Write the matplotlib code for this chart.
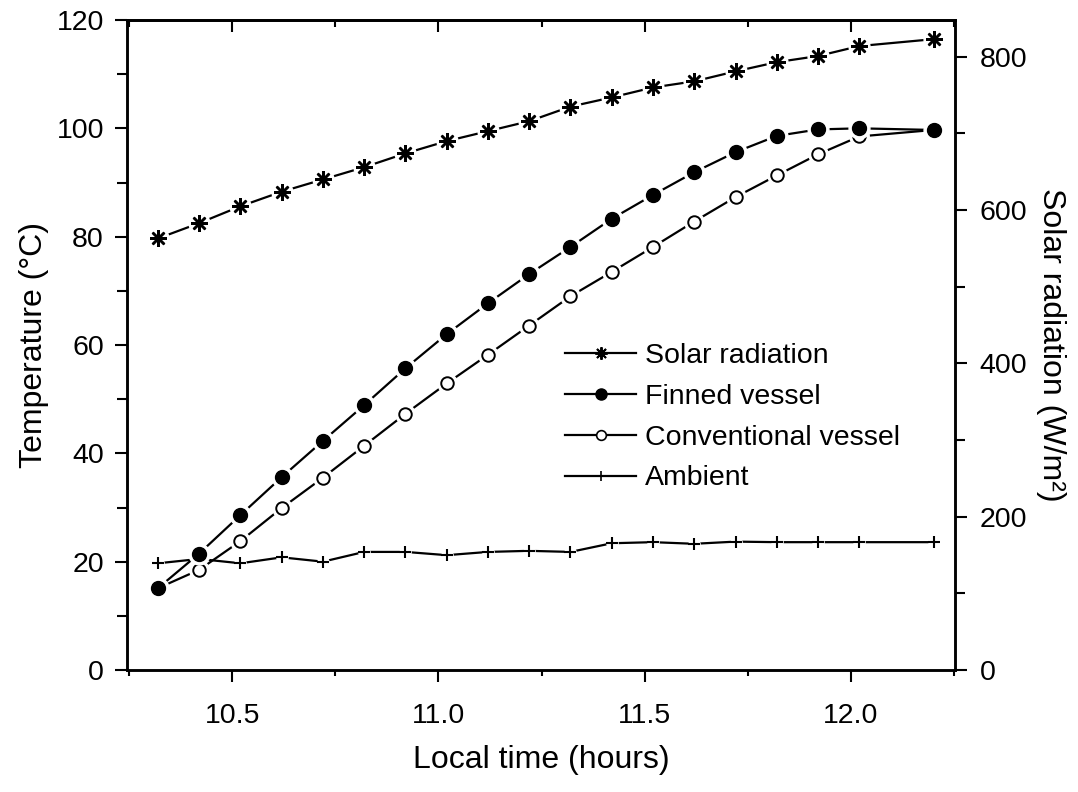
import matplotlib
matplotlib.use('Agg')
import matplotlib.pyplot as plt
from matplotlib.ticker import MultipleLocator, FormatStrFormatter
from matplotlib.lines import Line2D

# ---- data ----
times = [10.32, 10.42, 10.52, 10.62, 10.72, 10.82, 10.92, 11.02, 11.12, 11.22,
         11.32, 11.42, 11.52, 11.62, 11.72, 11.82, 11.92, 12.02, 12.20]
solar = [563, 583, 605, 624, 640, 656, 674, 690, 703, 716,
         735, 747, 760, 768, 781, 793, 801, 814, 823]
finned = [15.1, 21.5, 28.6, 35.6, 42.3, 48.9, 55.7, 62.0, 67.7, 73.1,
          78.1, 83.3, 87.7, 91.9, 95.6, 98.6, 99.8, 100.0, 99.7]
conventional = [15.1, 18.5, 23.8, 29.9, 35.5, 41.4, 47.3, 52.9, 58.2, 63.6,
                69.0, 73.5, 78.1, 82.8, 87.3, 91.3, 95.2, 98.5, 99.7]
ambient = [19.7, 20.5, 19.7, 20.8, 20.0, 21.8, 21.8, 21.2, 21.8, 22.0,
           21.8, 23.4, 23.6, 23.3, 23.7, 23.6, 23.6, 23.6, 23.6]

labels = ['Solar radiation', 'Finned vessel', 'Conventional vessel', 'Ambient']
x_major = [10.5, 11.0, 11.5, 12.0]

plt.rcParams['font.family'] = ['Liberation Sans', 'DejaVu Sans']
plt.rcParams['axes.linewidth'] = 1.8

fig = plt.figure(figsize=(10.78, 7.92), dpi=100)
ax = fig.add_axes([127 / 1078, 122 / 792, 828 / 1078, 650 / 792])
ax2 = ax.twinx()

LW = 1.6
STAR = (8, 2, 0)


def draw(a, x, y, marker, ms, mfc, mew, halo, z):
    a.plot(x, y, linestyle='-', color='k', lw=LW, zorder=z)
    a.plot(x, y, linestyle='none', marker='o', ms=halo, mfc='white', mec='white',
           zorder=z + 0.1)
    a.plot(x, y, linestyle='none', marker=marker, ms=ms, mfc=mfc, mec='k', mew=mew,
           zorder=z + 0.2)


draw(ax, times, ambient, '+', 8, 'k', 1.5, 8, 2)
draw(ax, times, conventional, 'o', 9, 'white', 1.4, 14, 3)
draw(ax, times, finned, 'o', 10, 'k', 1.0, 15, 4)
draw(ax2, times, solar, STAR, 12, 'k', 1.8, 15, 2)

# ---- axes ----
ax.set_xlim(10.245, 12.252)
ax.set_ylim(0, 120)
ax2.set_ylim(0, 848)

ax.xaxis.set_major_locator(plt.FixedLocator(x_major))
ax.xaxis.set_minor_locator(MultipleLocator(0.25))
ax.xaxis.set_major_formatter(FormatStrFormatter('%.1f'))
ax.yaxis.set_major_locator(MultipleLocator(20))
ax.yaxis.set_minor_locator(MultipleLocator(10))
ax2.yaxis.set_major_locator(MultipleLocator(200))
ax2.yaxis.set_minor_locator(MultipleLocator(100))

ax.tick_params(axis='x', which='major', direction='out', length=8.6, width=1.5,
               labelsize=20.5, pad=15, top=False)
ax.tick_params(axis='x', which='minor', direction='out', length=4, width=1.5, top=False)
ax.tick_params(axis='y', which='major', direction='out', length=8.6, width=1.5,
               labelsize=20.5, pad=8)
ax.tick_params(axis='y', which='minor', direction='out', length=7, width=1.5)
ax2.tick_params(axis='y', which='major', direction='out', length=8.6, width=1.5,
                labelsize=20.5, pad=9)
ax2.tick_params(axis='y', which='minor', direction='out', length=7, width=1.5)

sec = ax.secondary_xaxis('top')
sec.xaxis.set_major_locator(plt.FixedLocator(x_major))
sec.xaxis.set_minor_locator(MultipleLocator(0.25))
sec.tick_params(axis='x', which='major', direction='in', length=8.6, width=1.5,
                labeltop=False)
sec.tick_params(axis='x', which='minor', direction='in', length=5, width=1.5)

ax.set_xlabel('Local time (hours)', fontsize=23, labelpad=12)
ax.set_ylabel('Temperature (°C)', fontsize=23, labelpad=5)
ax2.set_ylabel('Solar radiation (W/m²)', fontsize=23, rotation=270, labelpad=28)

# ---- legend ----
handles = [
    Line2D([], [], color='k', lw=LW, marker=STAR, ms=9, mfc='k', mec='k', mew=1.4),
    Line2D([], [], color='k', lw=LW, marker='o', ms=8, mfc='k', mec='k'),
    Line2D([], [], color='k', lw=LW, marker='o', ms=7, mfc='white', mec='k', mew=1.2),
    Line2D([], [], color='k', lw=LW, marker='+', ms=7, mfc='k', mec='k', mew=1.2),
]
ax2.legend(handles, labels, loc='upper left', bbox_to_anchor=(0.529, 0.503),
           frameon=False, fontsize=20.5, handlelength=2.5, handletextpad=0.3,
           labelspacing=0.52, borderpad=0, borderaxespad=0)

fig.savefig('out.png', dpi=100)
